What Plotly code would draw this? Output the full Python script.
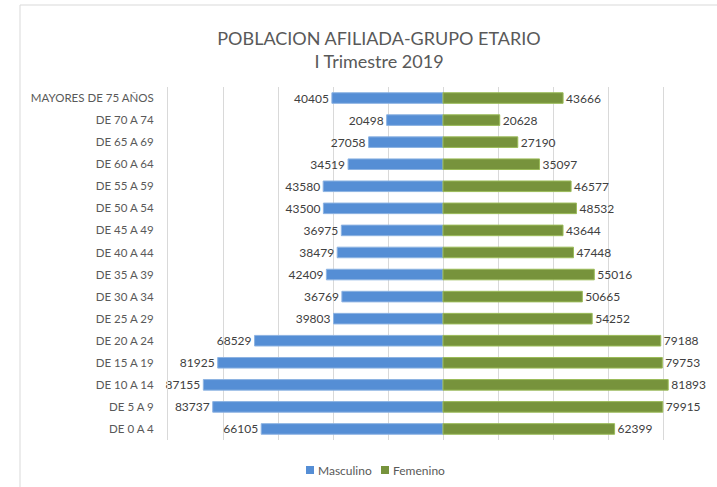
import plotly.graph_objects as go

categorias = ["DE 0 A 4", "DE 5 A 9", "DE 10 A 14", "DE 15 A 19", "DE 20 A 24",
              "DE 25 A 29", "DE 30 A 34", "DE 35 A 39", "DE 40 A 44", "DE 45 A 49",
              "DE 50 A 54", "DE 55 A 59", "DE 60 A 64", "DE 65 A 69", "DE 70 A 74",
              "MAYORES DE 75 AÑOS"]
masculino = [66105, 83737, 87155, 81925, 68529, 39803, 36769, 42409, 38479, 36975,
             43500, 43580, 34519, 27058, 20498, 40405]
femenino = [62399, 79915, 81893, 79753, 79188, 54252, 50665, 55016, 47448, 43644,
            48532, 46577, 35097, 27190, 20628, 43666]
series = ["Masculino", "Femenino"]
colores = ["#558ED5", "#77933C"]

FONT = "Lato"
TXT = "#404040"
AX = "#595959"

fig = go.Figure()
fig.add_trace(go.Bar(
    y=categorias, x=[-v for v in masculino], orientation="h", name=series[0],
    marker=dict(color=colores[0], line=dict(color="#8DB3E2", width=1)),
    text=[str(v) for v in masculino], textposition="outside", constraintext="none",
    textfont=dict(family=FONT, size=12, color=TXT), cliponaxis=False,
))
fig.add_trace(go.Bar(
    y=categorias, x=femenino, orientation="h", name=series[1],
    marker=dict(color=colores[1], line=dict(color="#9BBB59", width=1)),
    text=[str(v) for v in femenino], textposition="outside", constraintext="none",
    textfont=dict(family=FONT, size=12, color=TXT), cliponaxis=False,
))

W, H = 717, 487
L, R, T, B = 168, 0, 87, 47
pw, ph = W - L - R, H - T - B


def px(x):
    return (x - L) / pw


def py(y):
    return (H - B - y) / ph


fig.update_layout(
    width=W, height=H,
    margin=dict(l=L, r=R, t=T, b=B, autoexpand=False),
    paper_bgcolor="white", plot_bgcolor="white",
    barmode="relative", bargap=0.52,
    font=dict(family=FONT, color=TXT, size=11),
    title=dict(text="POBLACION AFILIADA-GRUPO ETARIO<br>I Trimestre 2019",
               x=379 / W, xanchor="center", y=1 - 45 / H, yanchor="middle",
               font=dict(family=FONT, size=18, color=AX)),
    xaxis=dict(range=[-100000, 100000 * (W - 443) / 275], dtick=20000, tick0=0,
               showticklabels=False, showgrid=True, gridcolor="#D9D9D9", gridwidth=1,
               zeroline=True, zerolinecolor="#D9D9D9", zerolinewidth=1, fixedrange=True,
               automargin=False),
    yaxis=dict(showline=True, linecolor="#D9D9D9", linewidth=1, ticks="",
               ticklabelstandoff=11, tickfont=dict(family=FONT, size=11.5, color=AX),
               showgrid=False, automargin=False, fixedrange=True),
    showlegend=False,
)

# chart border (left and top visible)
fig.add_shape(type="line", xref="paper", yref="paper",
              x0=px(20), x1=1.0, y0=py(5), y1=py(5),
              line=dict(color="#D9D9D9", width=1))
fig.add_shape(type="line", xref="paper", yref="paper",
              x0=px(20), x1=px(20), y0=py(5), y1=py(H + 2),
              line=dict(color="#D9D9D9", width=1))

# legend (compact, like the original)
leg_x = [306, 381]
for name, col, x0 in zip(series, colores, leg_x):
    fig.add_shape(type="rect", xref="paper", yref="paper",
                  x0=px(x0), x1=px(x0 + 8), y0=py(474), y1=py(466),
                  fillcolor=col, line=dict(width=0))
    fig.add_annotation(xref="paper", yref="paper", x=px(x0 + 10), y=py(470),
                       text=name, showarrow=False, xanchor="left", yanchor="middle",
                       font=dict(family=FONT, size=12, color=AX))

fig.write_html("out.html", config={"displayModeBar": False},
               post_script="document.body.style.margin='0';")
